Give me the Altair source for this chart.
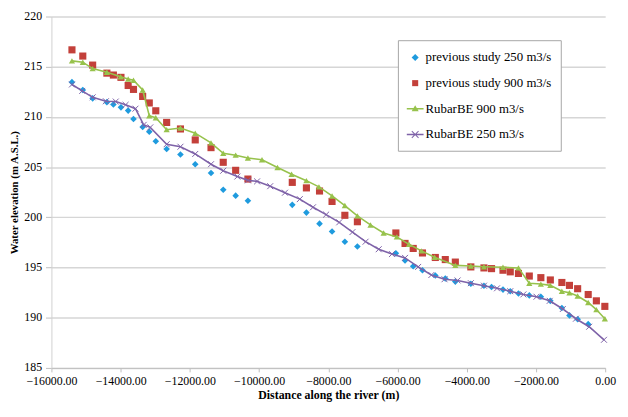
import altair as alt
import pandas as pd
import numpy as np

# ---- data ----
ps_x = [-15407, -15094, -14809, -14398, -14210, -13991, -13783, -13629, -13364, -13173,
        -12985, -12671, -12272, -11845, -11389, -11036, -10677, -10323, -9041, -8633,
        -8254, -7892, -7522, -7160, -6048, -5783, -5547, -5279, -4908, -4620,
        -4330, -3882, -3503, -3284, -2953, -2743, -2506, -2193, -1859, -1585,
        -1252, -1033, -796, -491, -255, -10]

ps250_y = [213.46, 212.68, 211.85, 211.47, 211.24, 210.95, 210.63, 209.79, 208.99, 208.53,
           207.57, 206.80, 206.25, 205.29, 204.42, 202.74, 202.16, 201.65, 201.24, 200.47,
           199.37, 198.59, 197.57, 197.09, 196.41, 195.70, 195.12, 194.73, 194.20, 193.90,
           193.60, 193.38, 193.19, 193.06, 192.80, 192.64, 192.41, 192.22, 192.09, 191.68,
           190.97, 190.23, 189.85, 189.36]

ps900_y = [216.68, 216.06, 215.16, 214.36, 214.17, 213.94, 213.13, 212.74, 212.04, 211.39,
           210.61, 209.45, 208.80, 207.71, 206.94, 205.48, 204.68, 203.81, 203.48, 202.93,
           202.62, 201.58, 200.20, 199.56, 198.44, 197.40, 196.90, 196.45, 196.00, 195.79,
           195.54, 195.06, 194.96, 194.89, 194.73, 194.57, 194.41, 194.15, 193.99, 193.76,
           193.51, 193.22, 192.89, 192.31, 191.68, 191.13]

rb900_x = [-15407, -15094, -14809, -14398, -14000, -13783, -13629, -13364, -13173, -12985,
           -12671, -12272, -11845, -11389, -11036, -10677, -10323, -9916, -9468, -9061,
           -8633, -8271, -7892, -7522, -7160, -6781, -6402, -6020, -5669, -5308,
           -4929, -4330, -3882, -3503, -2953, -2506, -2193, -1859, -1585, -1252,
           -1033, -796, -491, -255, -10]
rb900_y = [215.58, 215.45, 214.81, 214.45, 214.00, 213.78, 213.65, 212.68, 210.12, 209.92,
           208.73, 208.89, 208.38, 207.41, 206.38, 206.19, 205.90, 205.73, 204.96, 204.29,
           203.65, 203.03, 202.13, 201.17, 200.14, 199.24, 198.44, 198.05, 197.31, 196.66,
           196.02, 195.21, 195.15, 195.08, 195.02, 194.96, 193.44, 193.35, 193.22, 192.64,
           192.48, 192.16, 191.52, 190.81, 189.90]

rb250_x = [-15407, -15111, -14809, -14427, -14142, -13857, -13572, -13335, -13144, -12671,
           -12272, -11845, -11389, -11036, -10628, -10323, -10058, -9679, -9252, -8824,
           -8442, -8063, -7684, -7302, -6923, -6544, -6162, -5783, -5404, -5023,
           -4643, -4264, -3882, -3503, -3125, -2743, -2364, -1985, -1603, -1224,
           -845, -463, -35]
rb250_y = [213.23, 212.59, 211.95, 211.56, 211.53, 211.20, 210.82, 209.21, 208.96, 207.28,
           207.03, 206.31, 205.29, 204.64, 204.06, 203.68, 203.58, 203.10, 202.45, 201.81,
           201.00, 200.27, 199.50, 198.53, 197.57, 196.82, 196.34, 195.96, 195.06, 194.25,
           193.83, 193.71, 193.44, 193.19, 192.93, 192.64, 192.32, 192.09, 191.68, 190.87,
           189.90, 189.10, 187.80]

series = ["previous study 250 m3/s", "previous study 900 m3/s",
          "RubarBE 900 m3/s", "RubarBE 250 m3/s"]
colors = ["#1f9bde", "#c3403a", "#97c24c", "#7e62a8"]

x_ticks = list(range(-16000, 1, 2000))
y_ticks = list(range(185, 221, 5))

# ---- tables ----
df250 = pd.DataFrame({"x": ps_x[:len(ps250_y)], "y": ps250_y})
df900 = pd.DataFrame({"x": ps_x, "y": ps900_y})
dfr900 = pd.DataFrame({"x": rb900_x, "y": rb900_y})
dfr250 = pd.DataFrame({"x": rb250_x, "y": rb250_y})
dfleg = pd.DataFrame({"series": series, "x": [np.nan] * 4, "y": [np.nan] * 4})

FONT = "Liberation Serif, Times New Roman, serif"

X = alt.X("x:Q", scale=alt.Scale(domain=[-16000, 0], nice=False),
          axis=alt.Axis(values=x_ticks, format=".2f", grid=False,
                        title="Distance along the river (m)",
                        titleFont=FONT, titleFontSize=12, titleFontWeight="bold",
                        titleColor="black", titlePadding=3,
                        labelFont=FONT, labelFontSize=12, labelColor="black",
                        labelPadding=4, tickSize=4, tickColor="#bfbfbf",
                        domainColor="#bfbfbf", labelFlush=False))
Y = alt.Y("y:Q", scale=alt.Scale(domain=[185, 220], nice=False, zero=False),
          axis=alt.Axis(values=y_ticks, grid=True, gridColor="#d6d6d6", gridWidth=1.5,
                        title="Water elevation (m A.S.L.)",
                        titleFont=FONT, titleFontSize=11, titleFontWeight="bold",
                        titleColor="black", titlePadding=4,
                        labelFont=FONT, labelFontSize=12, labelColor="black",
                        labelPadding=4, labelOffset=-1, tickSize=6, tickColor="#bfbfbf",
                        domainColor="#d0d0d0"))

pts250 = alt.Chart(df250).mark_point(shape="diamond", filled=True, size=45, opacity=1,
                                     color=colors[0]).encode(x=X, y=Y)
pts900 = alt.Chart(df900).mark_point(shape="square", filled=True, size=52, opacity=1,
                                     color=colors[1]).encode(x="x:Q", y="y:Q")
line900 = alt.Chart(dfr900).mark_line(color=colors[2], strokeWidth=1.6).encode(x="x:Q", y="y:Q")
tri900 = alt.Chart(dfr900).mark_point(shape="triangle-up", filled=True, size=40, opacity=1,
                                      color=colors[2]).encode(x="x:Q", y="y:Q")
line250 = alt.Chart(dfr250).mark_line(color=colors[3], strokeWidth=1.6).encode(x="x:Q", y="y:Q")
x250 = alt.Chart(dfr250).mark_point(shape="M-1,-1L1,1M1,-1L-1,1", filled=False, size=36,
                                    opacity=1, strokeWidth=1,
                                    color=colors[3]).encode(x="x:Q", y="y:Q")

# legend symbols (filled paths in a [-1,1] box)
p_diamond = "M0,-0.42L0.42,0L0,0.42L-0.42,0Z"
p_square = "M-0.36,-0.36H0.36V0.36H-0.36Z"
p_tri = ("M-1,-0.09H1V0.09H-1Z"
         "M0,-0.42L0.42,0.3L-0.42,0.3Z")
p_x = ("M-1,-0.09H1V0.09H-1Z"
       "M-0.36,-0.44L0.44,0.36L0.36,0.44L-0.44,-0.36Z"
       "M-0.44,0.36L0.36,-0.44L0.44,-0.36L-0.36,0.44Z")

leg = dict(title=None, orient="none", legendX=351, legendY=24,
           labelFont=FONT, labelFontSize=13, labelColor="black",
           labelOffset=2, symbolSize=289, symbolStrokeWidth=0,
           rowPadding=10, padding=9,
           strokeColor="#a6a6a6", fillColor="white", labelLimit=300)

legend_layer = alt.Chart(dfleg).mark_point(filled=True, opacity=1).encode(
    x="x:Q", y="y:Q",
    color=alt.Color("series:N", scale=alt.Scale(domain=series, range=colors),
                    legend=alt.Legend(**leg)),
    shape=alt.Shape("series:N",
                    scale=alt.Scale(domain=series, range=[p_diamond, p_square, p_tri, p_x]),
                    legend=alt.Legend(**leg)),
)

chart = alt.layer(pts250, pts900, line900, tri900, line250, x250, legend_layer).properties(
    width=561, height=356,
    autosize=alt.AutoSizeParams(type="none"),
    padding={"left": 44, "top": 6, "right": 15, "bottom": 39},
    background="white",
).configure(font=FONT).configure_axis(labelFont=FONT, titleFont=FONT).configure_view(stroke=None)

chart.save("out.html", embed_options={"renderer": "svg", "actions": False})
